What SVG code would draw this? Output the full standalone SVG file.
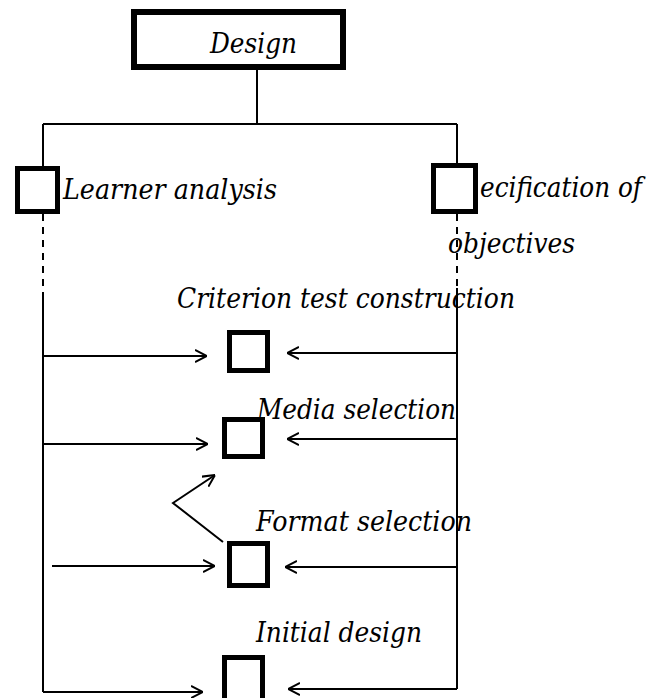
<svg xmlns="http://www.w3.org/2000/svg" width="655" height="698" viewBox="0 0 655 698">
  <defs>
    <marker id="open-arrow" markerUnits="userSpaceOnUse" viewBox="0 0 12 14" refX="12" refY="7" markerWidth="12" markerHeight="14" orient="auto">
      <path d="M0,1 L12,7 L0,13" fill="none" stroke="#000" stroke-width="2"/>
    </marker>
  </defs>
  <style>
    .line { fill: none; stroke: #000; stroke-width: 2; }
    .dash { stroke-dasharray: 7 6; }
    .arrow { marker-end: url(#open-arrow); }
    .box { fill: #fff; stroke: #000; stroke-width: 5; }
    .box-main { fill: #fff; stroke: #000; stroke-width: 6; }
    .label { font-family: "DejaVu Serif", "Liberation Serif", "Times New Roman", serif; font-style: italic; font-size: 28px; fill: #000; }
  </style>
  <rect width="655" height="698" fill="#fff"/>

  <g id="connectors">
    <!-- tree from the Design box -->
    <path class="line" d="M257,70 V124"/>
    <path class="line" d="M43,124 H457"/>
    <path class="line" d="M43,124 V166"/>
    <path class="line" d="M457,124 V163"/>
    <!-- left spine -->
    <path class="line dash" d="M43,214 V293"/>
    <path class="line" d="M43,293 V692"/>
    <!-- right spine -->
    <path class="line dash" d="M457,214 V288"/>
    <path class="line" d="M457,288 V689"/>
    <!-- arrows from the left -->
    <path class="line arrow" d="M43,356 H207"/>
    <path class="line arrow" d="M43,444 H208"/>
    <path class="line arrow" d="M52,566 H215"/>
    <path class="line arrow" d="M43,692 H203"/>
    <!-- arrows from the right -->
    <path class="line arrow" d="M457,353 H287"/>
    <path class="line arrow" d="M457,439 H287"/>
    <path class="line arrow" d="M457,567 H285"/>
    <path class="line arrow" d="M457,689 H288"/>
    <!-- feedback from format to media -->
    <path class="line arrow" d="M223,542 L173,503 L215,475"/>
  </g>

  <g id="design">
    <rect class="box-main" x="134" y="12" width="209" height="55"/>
    <text class="label" x="210" y="53" textLength="87" lengthAdjust="spacingAndGlyphs">Design</text>
  </g>

  <g id="learner-analysis">
    <rect class="box" x="17.5" y="168.5" width="40" height="43"/>
    <text class="label" x="63" y="199" textLength="214" lengthAdjust="spacingAndGlyphs">Learner analysis</text>
  </g>

  <g id="specification-of-objectives">
    <rect class="box" x="433.5" y="165.5" width="42" height="46"/>
    <text class="label" x="480" y="197" textLength="162" lengthAdjust="spacingAndGlyphs">ecification of</text>
    <text class="label" x="448" y="253" textLength="127" lengthAdjust="spacingAndGlyphs">objectives</text>
  </g>

  <g id="criterion-test-construction">
    <text class="label" x="177" y="308" textLength="338" lengthAdjust="spacingAndGlyphs">Criterion test construction</text>
    <rect class="box" x="229.5" y="332.5" width="38" height="38"/>
  </g>

  <g id="media-selection">
    <rect class="box" x="224.5" y="419.5" width="38" height="37"/>
    <text class="label" x="257" y="419" textLength="199" lengthAdjust="spacingAndGlyphs">Media selection</text>
  </g>

  <g id="format-selection">
    <text class="label" x="256" y="531" textLength="216" lengthAdjust="spacingAndGlyphs">Format selection</text>
    <rect class="box" x="229.5" y="543.5" width="38" height="42"/>
  </g>

  <g id="initial-design">
    <text class="label" x="256" y="642" textLength="166" lengthAdjust="spacingAndGlyphs">Initial design</text>
    <rect class="box" x="224.5" y="657.5" width="38" height="45"/>
  </g>
</svg>
